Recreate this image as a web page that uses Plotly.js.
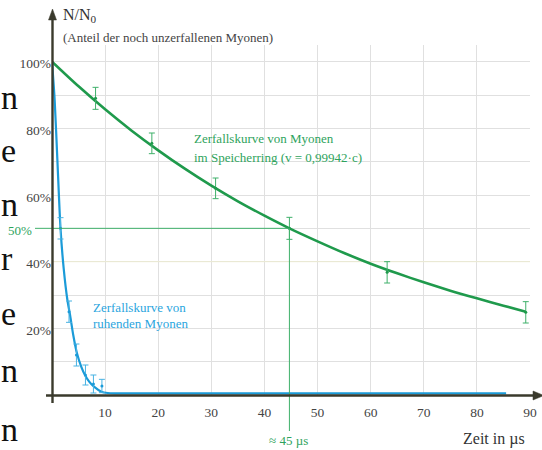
<!DOCTYPE html>
<html><head><meta charset="utf-8">
<script src="https://cdn.plot.ly/plotly-3.0.1.min.js"></script>
<style>html,body{margin:0;padding:0;background:#fff}</style>
</head><body><div id="chart" style="width:542px;height:450px"></div>
<script>
// ---- data ----
const greenCurveT = [0, 5, 10, 15, 20, 25, 30, 35, 40, 44.7, 50, 55, 60, 65, 70, 75, 80, 85, 89.2];
const greenCurveN = [100, 92.6, 85.7, 79.3, 73.4, 67.9, 62.8, 58.1, 53.8, 50, 46.1, 42.6, 39.4, 36.5, 33.8, 31.3, 29.0, 26.8, 25.0];
const greenErrT = [8.2, 18.8, 30.8, 44.7, 63.1, 89.2];
const greenErrN = [89, 75.5, 62, 50, 36.8, 24.8];
const greenErr  = [3.3, 3.1, 3.1, 3.3, 3.2, 3.2];

const blueCurveT = [0, 0.5, 1.0, 1.6, 2.2, 2.9, 3.4, 4.0, 4.7, 5.5, 6.2, 7.0, 7.9, 9.3, 10.5, 12, 30, 60, 85.5];
const blueCurveN = [100, 88.5, 71, 50, 38, 28.5, 24, 18, 12.5, 8.5, 6, 4, 2.5, 1.0, 0.6, 0.5, 0.5, 0.5, 0.5];
const blueErrT = [1.6, 3.2, 4.6, 6.3, 7.8, 9.4];
const blueErrN = [50, 25, 12, 6, 3.3, 2.7];
const blueErr  = [3.2, 3.2, 3.3, 3.0, 2.7, 2.0];

const xTickVals = [0, 10, 20, 30, 40, 50, 60, 70, 80, 90];
const xTickText = [' ', '10', '20', '30', '40', '50', '60', '70', '80', '90'];
const yTickVals = [10, 20, 30, 40, 50, 60, 70, 80, 90, 100];
const yTickText = [' ', '20%', ' ', '40%', ' ', '60%', ' ', '80%', ' ', '100%'];

const halfT = [44.7];
const halfN = [50];
const sideLetters = ['n', 'e', 'n', 'r', 'e', 'n', 'n'];

// ---- layout geometry ----
const W = 542, H = 450;
const L = 52, R = 12, T = 45, B = 55;
const PW = W - L - R, PH = H - T - B;
const XMAX = 90, YMAX = 105;
const px = x => (x - L) / PW;          // pixel -> paper x
const py = y => (H - B - y) / PH;      // pixel -> paper y

const GREEN = '#1f9a4c', GREEN_T = '#2ea35c', GREEN_E = '#3fb06a';
const BLUE = '#1b9bd8', BLUE_T = '#2aa5de', BLUE_E = '#49b3e3';
const AX = '#3a3a2c';
const SERIF = '"Liberation Serif", serif';

const traces = [
  {x: greenCurveT, y: greenCurveN, mode: 'lines', line: {color: GREEN, width: 2.6, shape: 'spline', smoothing: 0.8}, hoverinfo: 'skip'},
  {x: greenErrT, y: greenErrN, mode: 'markers', marker: {color: GREEN, size: 3},
   error_y: {type: 'data', array: greenErr, color: GREEN_E, thickness: 1, width: 3}},
  {x: blueCurveT, y: blueCurveN, mode: 'lines', line: {color: BLUE, width: 2.2, shape: 'spline', smoothing: 0.7}, hoverinfo: 'skip'},
  {x: blueErrT, y: blueErrN, mode: 'markers', marker: {color: BLUE, size: 3},
   error_y: {type: 'data', array: blueErr, color: BLUE_E, thickness: 1, width: 3}}
];

const shapes = [
  // yellowish 40% grid line
  {type: 'line', xref: 'x', yref: 'y', x0: 0, x1: XMAX, y0: 40, y1: 40, layer: 'between', line: {color: '#ecebd2', width: 1}},
  // 50% guide
  {type: 'line', xref: 'paper', yref: 'paper', x0: px(35), x1: halfT[0] / XMAX, y0: halfN[0] / YMAX, y1: halfN[0] / YMAX, line: {color: GREEN_E, width: 1}},
  {type: 'line', xref: 'paper', yref: 'paper', x0: halfT[0] / XMAX, x1: halfT[0] / XMAX, y0: halfN[0] / YMAX, y1: py(431), line: {color: GREEN_E, width: 1}},
  // axes
  {type: 'line', xref: 'paper', yref: 'paper', x0: px(52.5), x1: px(52.5), y0: py(403), y1: py(17), line: {color: AX, width: 2.4}},
  {type: 'path', xref: 'paper', yref: 'paper', path: `M${px(52.5)},${py(9)} L${px(48.5)},${py(20)} L${px(56.5)},${py(20)} Z`, fillcolor: AX, line: {color: AX, width: 0.5}},
  {type: 'line', xref: 'paper', yref: 'paper', x0: px(46), x1: px(536), y0: py(395.5), y1: py(395.5), line: {color: AX, width: 2.4}},
  {type: 'path', xref: 'paper', yref: 'paper', path: `M${px(544)},${py(395.5)} L${px(533)},${py(391)} L${px(533)},${py(400)} Z`, fillcolor: AX, line: {color: AX, width: 0.5}}
];

const ann = (text, x, y, opts) => Object.assign({text, x: px(x), y: py(y), xref: 'paper', yref: 'paper', showarrow: false, xanchor: 'left', yanchor: 'middle'}, opts);
const annotations = [
  ann('N/N<sub>0</sub>', 61, 15, {font: {family: SERIF, size: 16, color: '#333'}}),
  ann('(Anteil der noch unzerfallenen Myonen)', 61, 38, {font: {family: SERIF, size: 13, color: '#444'}}),
  ann('Zerfallskurve von Myonen', 192, 138, {font: {family: SERIF, size: 13, color: GREEN_T}}),
  ann('im Speicherring (v = 0,99942·c)', 192, 157, {font: {family: SERIF, size: 13, color: GREEN_T}}),
  ann('Zerfallskurve von', 91, 307, {font: {family: SERIF, size: 13, color: BLUE_T}}),
  ann('ruhenden Myonen', 91, 323, {font: {family: SERIF, size: 13, color: BLUE_T}}),
  ann('50%', 6, 231, {font: {family: SERIF, size: 13, color: GREEN_T}}),
  ann('≈ 45 µs', 288.5, 440, {xanchor: 'center', font: {family: SERIF, size: 13, color: GREEN_T}}),
  ann('Zeit in µs', 461, 439, {font: {family: SERIF, size: 16, color: '#333'}})
];
const letterY = [97, 150, 204, 258, 313, 370, 429];
sideLetters.forEach((s, i) => annotations.push(ann(s, -1, letterY[i], {font: {family: SERIF, size: 34, color: '#111'}})));

const layout = {
  width: W, height: H,
  margin: {l: L, r: R, t: T, b: B, pad: 0},
  paper_bgcolor: '#fff', plot_bgcolor: '#fff',
  showlegend: false,
  font: {family: SERIF},
  xaxis: {range: [0, XMAX], tickmode: 'array', tickvals: xTickVals, ticktext: xTickText,
          showgrid: true, gridcolor: '#e0e0e0', gridwidth: 1, zeroline: false, showline: false, ticks: '',
          ticklabelstandoff: 7,
          tickfont: {family: SERIF, size: 13.5, color: '#444'}, fixedrange: true},
  yaxis: {range: [0, YMAX], tickmode: 'array', tickvals: yTickVals, ticktext: yTickText,
          showgrid: true, gridcolor: '#e0e0e0', gridwidth: 1, zeroline: false, showline: false, ticks: '',
          ticklabelshift: 2, ticklabelstandoff: 0,
          tickfont: {family: SERIF, size: 13.5, color: '#444'}, fixedrange: true},
  shapes, annotations
};
Plotly.newPlot('chart', traces, layout, {displayModeBar: false, staticPlot: true});
</script></body></html>
